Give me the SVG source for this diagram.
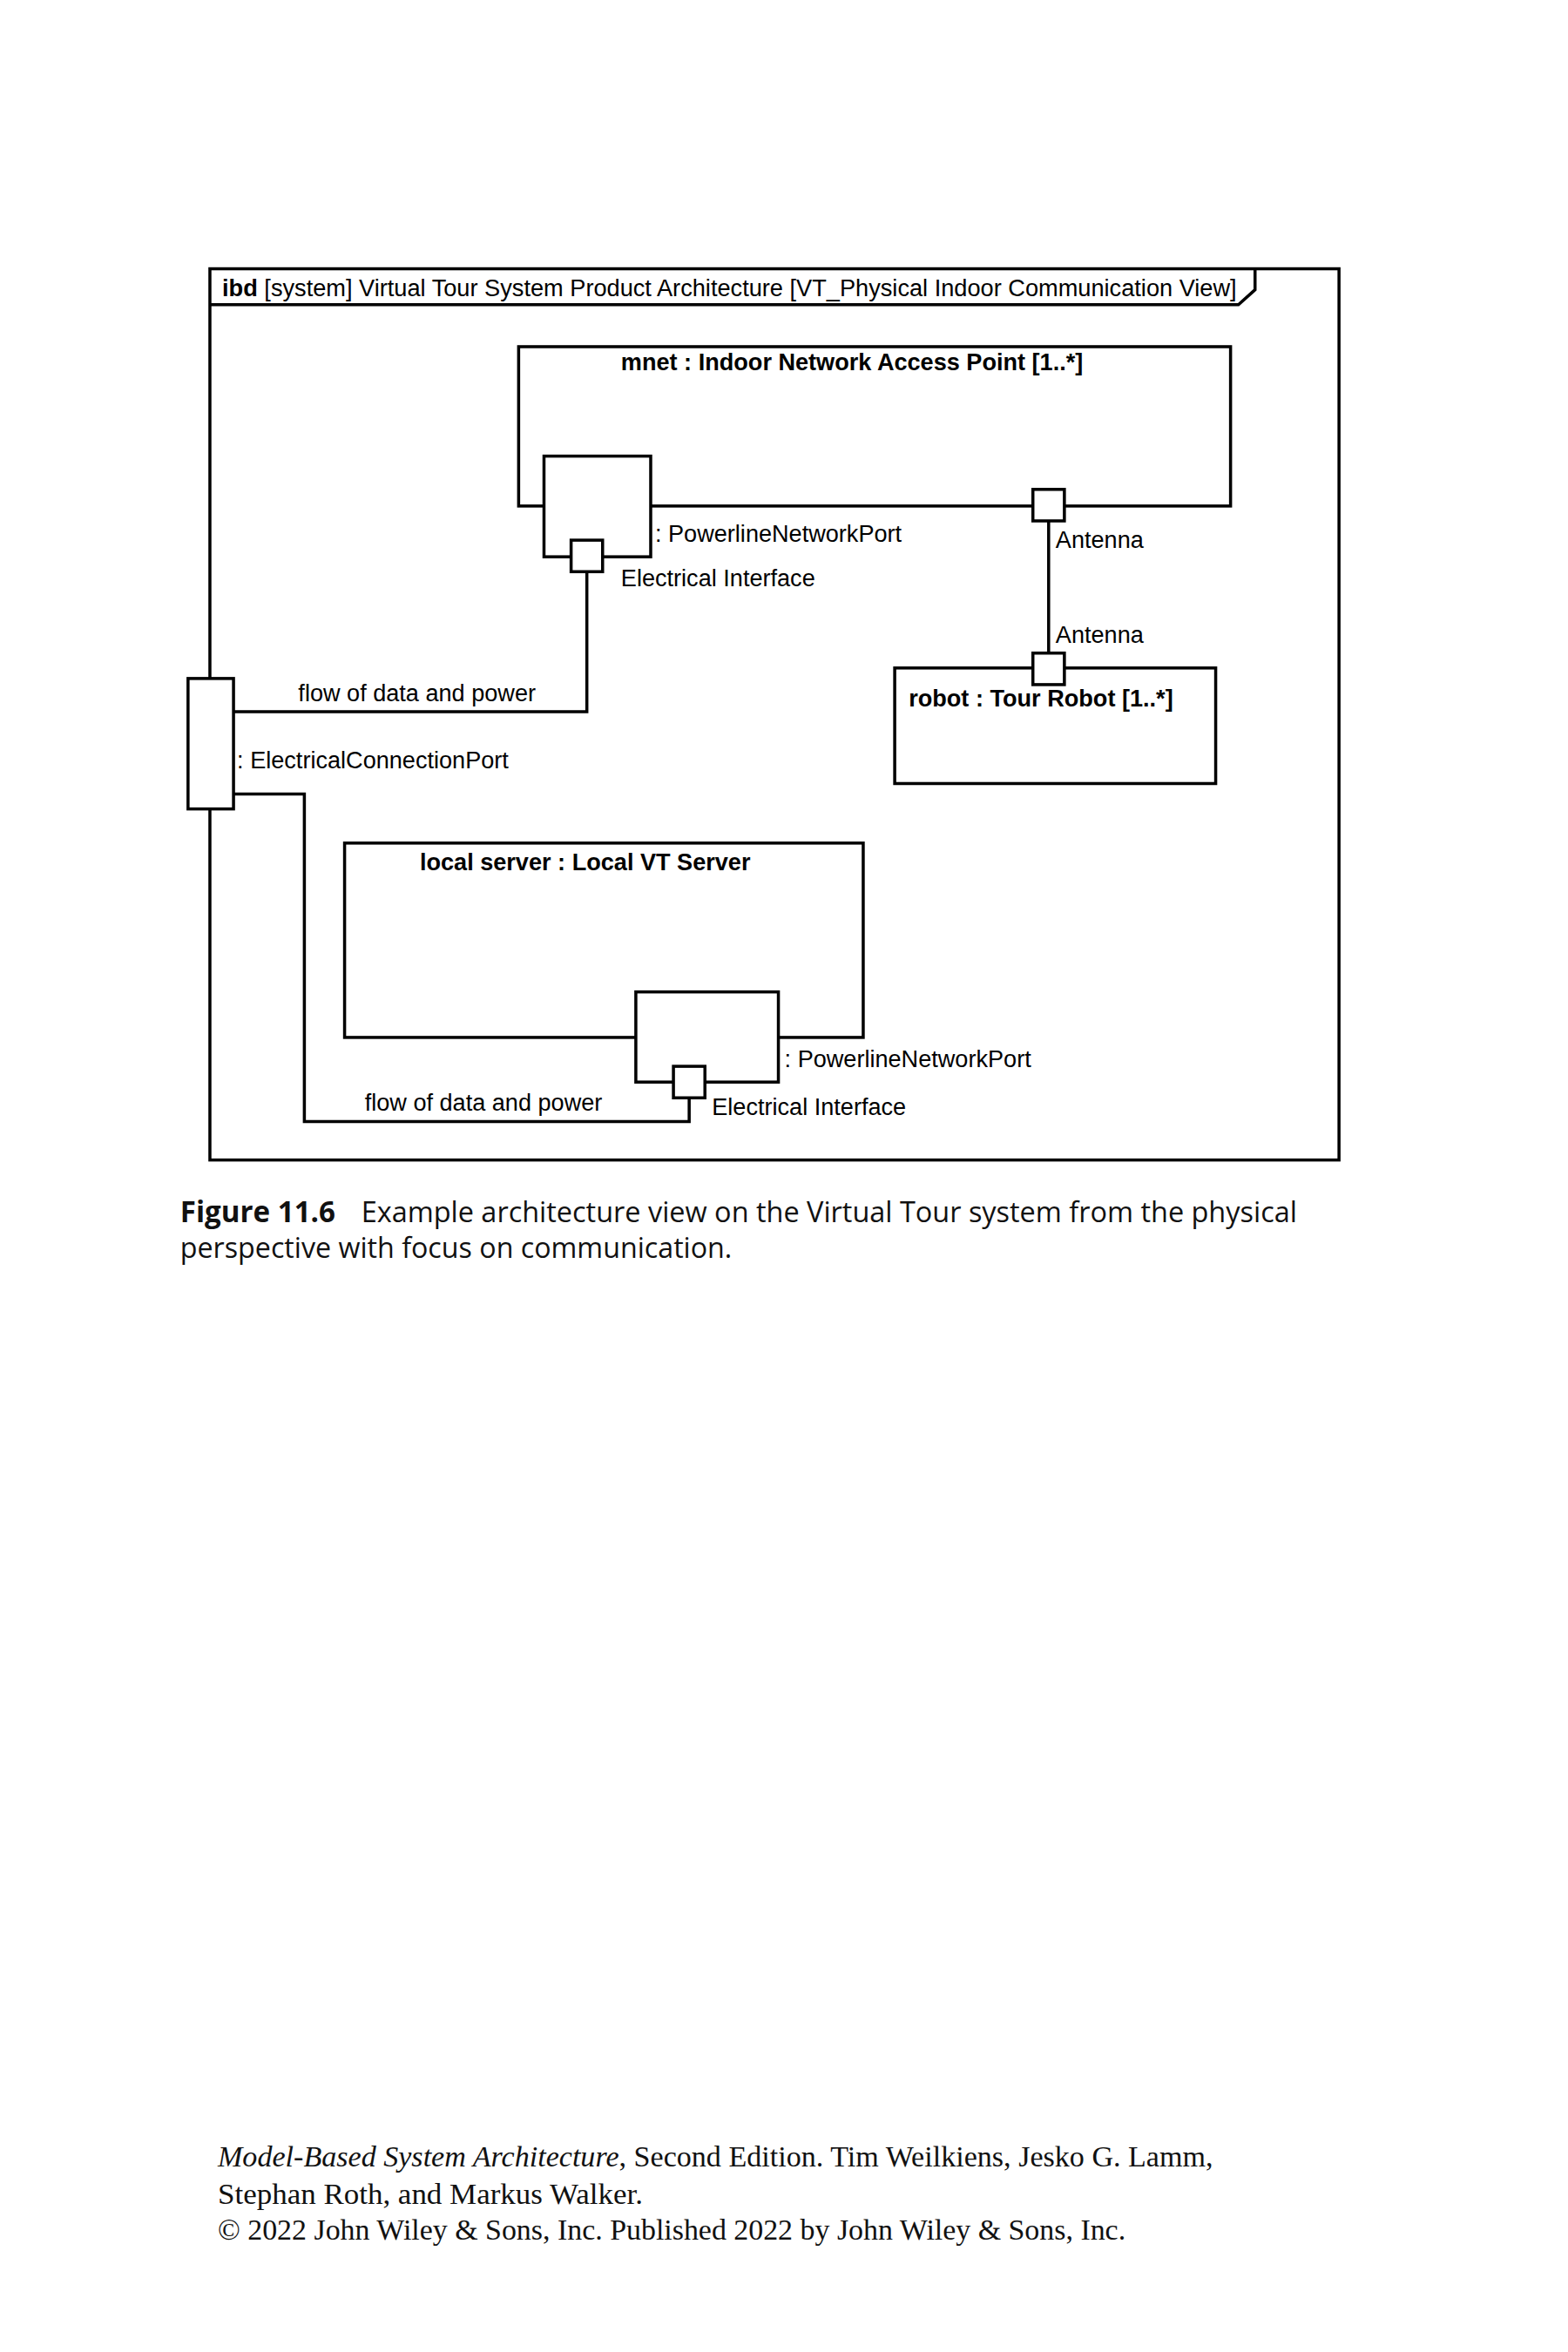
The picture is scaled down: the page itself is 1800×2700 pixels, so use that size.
<svg xmlns="http://www.w3.org/2000/svg" width="1800" height="2700" viewBox="0 0 1800 2700">
<style>
.box{fill:#fff;stroke:#000;stroke-width:3.5}
.port{fill:#fff;stroke:#000;stroke-width:3.5}
.con{fill:none;stroke:#000;stroke-width:3.5}
.t{font-family:"Liberation Sans",Arial,Helvetica,sans-serif;font-size:27px;fill:#000}
.b{font-weight:bold}
.cap{font-family:"Open Sans","Noto Sans",sans-serif;font-size:33px;fill:#111}
.foot{font-family:"Liberation Serif","Times New Roman",serif;font-size:33px;fill:#111}
</style>
<rect width="1800" height="2700" fill="#fff"/>
<g transform="scale(1.004,1.005)">
<g id="frame">
<rect x="240" y="307" width="1291" height="1018" fill="none" stroke="#000" stroke-width="3.5"/>
<path d="M240,348 H1416 L1435,331 V307" fill="none" stroke="#000" stroke-width="3.5"/>
<text class="t" x="254" y="338" textLength="1160" lengthAdjust="spacingAndGlyphs"><tspan class="b">ibd</tspan> [system] Virtual Tour System Product Architecture [VT_Physical Indoor Communication View]</text>
</g>
<g id="mnet">
<rect class="box" x="593" y="396" width="814" height="182"/>
<text class="t b" x="710" y="423">mnet : Indoor Network Access Point [1..*]</text>
</g>
<g id="mnet-powerline-port">
<rect class="port" x="622" y="521" width="122" height="115"/>
<text class="t" x="749" y="619">: PowerlineNetworkPort</text>
</g>
<g id="mnet-electrical-interface">
<rect class="port" x="653" y="617" width="36" height="36"/>
<text class="t" x="710" y="670">Electrical Interface</text>
</g>
<g id="mnet-antenna">
<rect class="port" x="1181" y="559" width="36" height="36"/>
<text class="t" x="1207" y="626">Antenna</text>
</g>
<g id="robot">
<rect class="box" x="1023" y="763" width="367" height="132"/>
<text class="t b" x="1039" y="807">robot : Tour Robot [1..*]</text>
</g>
<g id="robot-antenna">
<rect class="port" x="1181" y="746" width="36" height="36"/>
<text class="t" x="1207" y="734">Antenna</text>
</g>
<g id="local-server">
<rect class="box" x="394" y="963" width="593" height="222"/>
<text class="t b" x="480" y="994">local server : Local VT Server</text>
</g>
<g id="local-powerline-port">
<rect class="port" x="727" y="1133" width="163" height="103"/>
<text class="t" x="897" y="1219">: PowerlineNetworkPort</text>
</g>
<g id="local-electrical-interface">
<rect class="port" x="770" y="1218" width="36" height="36"/>
<text class="t" x="814" y="1274">Electrical Interface</text>
</g>
<g id="electrical-connection-port">
<rect class="port" x="215" y="775" width="52" height="149"/>
<text class="t" x="271" y="878">: ElectricalConnectionPort</text>
</g>
<g id="connectors">
<path class="con" d="M267,813 H671 V653"/>
<text class="t" x="341" y="801">flow of data and power</text>
<path class="con" d="M267,907 H348 V1281 H788 V1254"/>
<text class="t" x="417" y="1269">flow of data and power</text>
<path class="con" d="M1199,595 V746"/>
</g>
<g id="caption">
<text class="cap" x="206" y="1396"><tspan font-weight="bold">Figure 11.6</tspan></text>
<text class="cap" x="413" y="1396" textLength="1070" lengthAdjust="spacingAndGlyphs">Example architecture view on the Virtual Tour system from the physical</text>
<text class="cap" x="206" y="1437" textLength="631" lengthAdjust="spacingAndGlyphs">perspective with focus on communication.</text>
</g>
<g id="footer">
<text class="foot" x="249" y="2475" textLength="1138" lengthAdjust="spacingAndGlyphs"><tspan font-style="italic">Model-Based System Architecture</tspan>, Second Edition. Tim Weilkiens, Jesko G. Lamm,</text>
<text class="foot" x="249" y="2517" textLength="486" lengthAdjust="spacingAndGlyphs">Stephan Roth, and Markus Walker.</text>
<text class="foot" x="249" y="2558" textLength="1038" lengthAdjust="spacingAndGlyphs">© 2022 John Wiley &amp; Sons, Inc. Published 2022 by John Wiley &amp; Sons, Inc.</text>
</g>
</g>
</svg>
